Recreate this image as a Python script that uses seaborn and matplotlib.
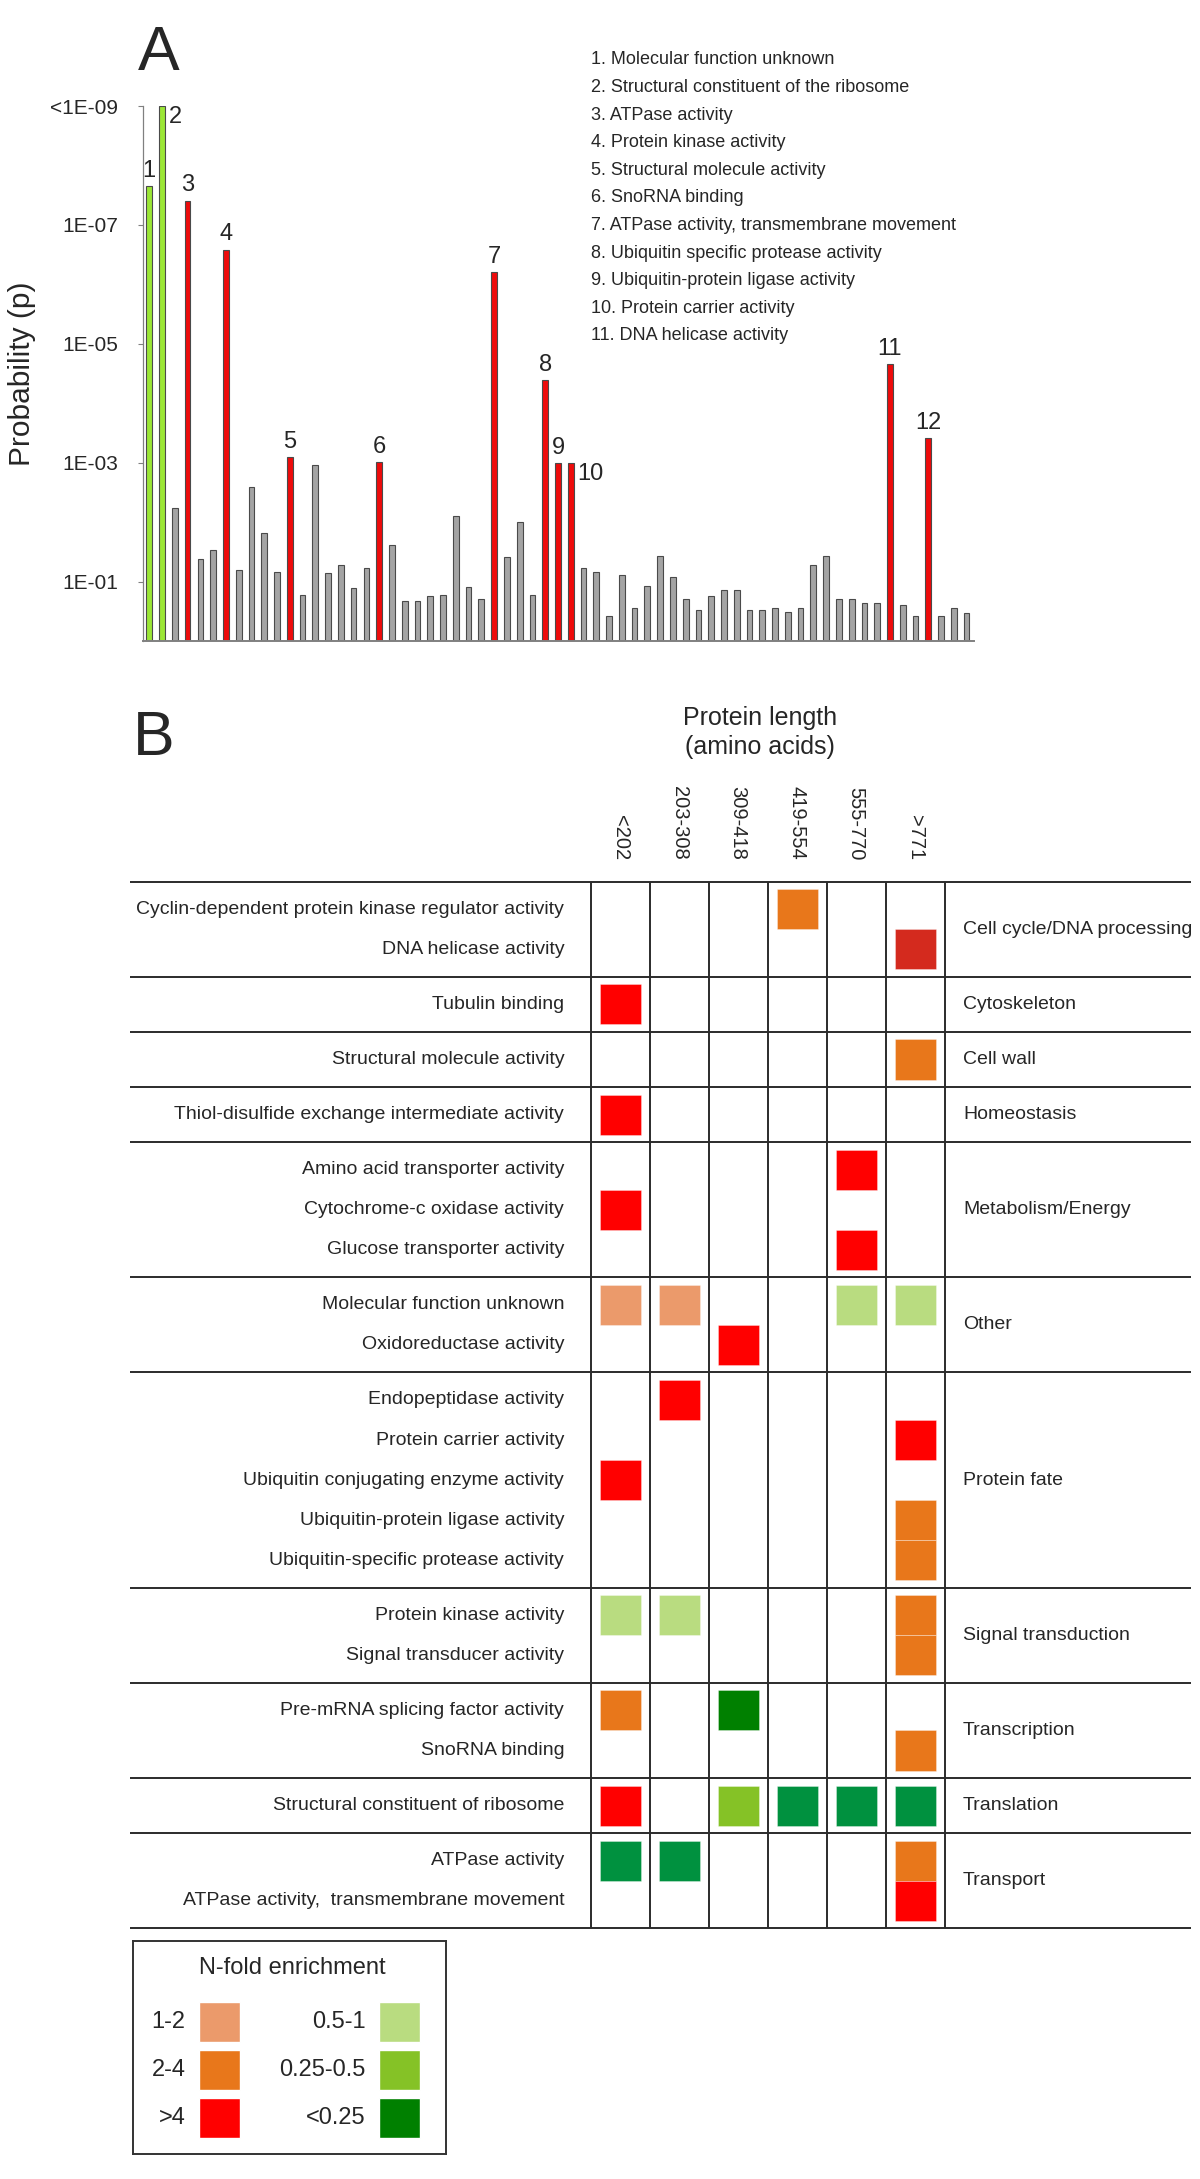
import numpy as np
import pandas as pd
import matplotlib.pyplot as plt
import seaborn as sns
from matplotlib import font_manager

# ---------------- panel A data ----------------
p_values = [2.2e-8, 1e-9, 5.8e-3, 3.9e-8, 4.1e-2, 2.9e-2, 2.6e-7, 6.3e-2, 2.6e-3, 1.5e-2,
            6.8e-2, 8.1e-4, 0.166, 1.1e-3, 7.1e-2, 5.2e-2, 0.129, 6.0e-2, 9.8e-4, 2.4e-2,
            0.21, 0.21, 0.174, 0.166, 7.8e-3, 0.123, 0.20, 6.2e-7, 3.9e-2, 1.0e-2,
            0.166, 4.1e-5, 1.0e-3, 1.0e-3, 5.9e-2, 6.8e-2, 0.38, 7.9e-2, 0.28, 0.12,
            3.7e-2, 8.5e-2, 0.20, 0.30, 0.174, 0.138, 0.138, 0.30, 0.30, 0.28,
            0.32, 0.28, 5.2e-2, 3.7e-2, 0.20, 0.20, 0.23, 0.23, 2.2e-5, 0.25,
            0.38, 3.9e-4, 0.38, 0.28, 0.34]
highlight_bars = [0, 1, 3, 6, 11, 18, 27, 31, 32, 33, 58, 61]
highlight_kind = ['green', 'green'] + ['red'] * 10
ytick_labels = ['1E-01', '1E-03', '1E-05', '1E-07', '<1E-09']
go_terms = ['Molecular function unknown', 'Structural constituent of the ribosome',
            'ATPase activity', 'Protein kinase activity', 'Structural molecule activity',
            'SnoRNA binding', 'ATPase activity, transmembrane movement',
            'Ubiquitin specific protease activity', 'Ubiquitin-protein ligase activity',
            ' Protein carrier activity', ' DNA helicase activity']

# ---------------- panel B data ----------------
length_bins = ['<202', '203-308', '309-418', '419-554', '555-770', '>771']
groups = ['Cell cycle/DNA processing', 'Cytoskeleton', 'Cell wall', 'Homeostasis',
          'Metabolism/Energy', 'Other', 'Protein fate', 'Signal transduction',
          'Transcription', 'Translation', 'Transport']
terms = ['Cyclin-dependent protein kinase regulator activity', 'DNA helicase activity',
         'Tubulin binding', 'Structural molecule activity',
         'Thiol-disulfide exchange intermediate activity',
         'Amino acid transporter activity', 'Cytochrome-c oxidase activity',
         'Glucose transporter activity', 'Molecular function unknown',
         'Oxidoreductase activity', 'Endopeptidase activity', 'Protein carrier activity',
         'Ubiquitin conjugating enzyme activity', 'Ubiquitin-protein ligase activity',
         'Ubiquitin-specific protease activity', 'Protein kinase activity',
         'Signal transducer activity', 'Pre-mRNA splicing factor activity',
         'SnoRNA binding', 'Structural constituent of ribosome', 'ATPase activity',
         'ATPase activity,  transmembrane movement']
term_group = [0, 0, 1, 2, 3, 4, 4, 4, 5, 5, 6, 6, 6, 6, 6, 7, 7, 8, 8, 9, 10, 10]
cell_term = [0, 1, 2, 3, 4, 5, 6, 7, 8, 8, 8, 8, 9, 10, 11, 12, 13, 14, 15, 15, 15, 16,
             17, 17, 18, 19, 19, 19, 19, 19, 20, 20, 20, 21]
cell_col = [3, 5, 0, 5, 0, 4, 0, 4, 0, 1, 4, 5, 2, 1, 5, 0, 5, 5, 0, 1, 5, 5,
            0, 2, 5, 0, 2, 3, 4, 5, 0, 1, 5, 5]
cell_level = ['2-4', '>4', '>4', '2-4', '>4', '>4', '>4', '>4', '1-2', '1-2', '0.5-1', '0.5-1',
              '>4', '>4', '>4', '>4', '2-4', '2-4', '0.5-1', '0.5-1', '2-4', '2-4',
              '2-4', '<0.25', '2-4', '>4', '0.25-0.5', '<0.25', '<0.25', '<0.25',
              '<0.25', '<0.25', '2-4', '>4']
legend_levels = ['1-2', '2-4', '>4', '0.5-1', '0.25-0.5', '<0.25']

level_colors = {'1-2': '#eb9a6b', '2-4': '#e8771b', '>4': '#ff0000',
                '0.5-1': '#b9dc80', '0.25-0.5': '#85c226', '<0.25': '#008000'}
# shades used in the table that differ slightly from the legend key
shade_override = {(1, 5): '#d42a1e', (19, 3): '#00913f', (19, 4): '#00913f',
                  (19, 5): '#00913f', (20, 0): '#00913f', (20, 1): '#00913f'}

sns.set_style('white')
plt.rcParams['font.family'] = ['Liberation Sans', 'DejaVu Sans']
names = {f.name for f in font_manager.fontManager.ttflist}
narrow = 'Liberation Sans Narrow' in names

W, H = 1200, 2179
fig = plt.figure(figsize=(W / 100, H / 100), dpi=100)


def fx(px):
    return px / W


def fy(py):
    return 1 - py / H


# ---------------- panel A ----------------
ax_a = fig.add_axes([fx(143.3), fy(641), (974 - 143.3) / W, (641 - 106) / H])
kinds = ['grey'] * len(p_values)
for i, k in zip(highlight_bars, highlight_kind):
    kinds[i] = k
df_a = pd.DataFrame({'bar': np.arange(len(p_values)),
                     'score': -np.log10(p_values),
                     'kind': kinds})
sns.barplot(data=df_a, x='bar', y='score', hue='kind',
            palette={'grey': '#a4a4a4', 'green': '#9be636', 'red': '#ee0b0b'},
            dodge=False, width=0.45, saturation=1, legend=False,
            edgecolor='#4a4a4a', linewidth=0.8, ax=ax_a)
ax_a.set_xlim(-0.47, 64.58)
ax_a.set_ylim(0, 9)
ax_a.set_xticks([])
ax_a.set_xlabel('')
ax_a.set_yticks([1, 3, 5, 7, 9])
if narrow:
    ax_a.set_yticklabels(ytick_labels, family=['Liberation Sans Narrow', 'Liberation Sans'],
                         fontsize=17)
else:
    ax_a.set_yticklabels(ytick_labels, fontsize=15)
ax_a.tick_params(axis='y', left=True, length=3.6, width=0.8, color='#808080', pad=14.5)
sns.despine(ax=ax_a)
ax_a.spines['left'].set_color('#808080')
ax_a.spines['left'].set_linewidth(0.9)
ax_a.spines['bottom'].set_color('#808080')
ax_a.spines['bottom'].set_linewidth(1.4)
ax_a.set_ylabel('Probability (p)', fontsize=21.5)
ax_a.yaxis.set_label_coords(-0.129, 0.5)

scores = df_a['score'].values
for n, i in enumerate(highlight_bars, start=1):
    if n in (2, 10):
        ax_a.annotate(str(n), (i + 0.22, scores[i]), xytext=(3, 0),
                      textcoords='offset points', ha='left', va='top', fontsize=17)
    else:
        ax_a.annotate(str(n), (i, scores[i]), xytext=(0, 3),
                      textcoords='offset points', ha='center', va='bottom', fontsize=17)

fig.text(fx(138), fy(70), 'A', fontsize=45, va='baseline', ha='left')
for k, name in enumerate(go_terms):
    fig.text(fx(590.6), fy(60 + k * 27.6), f'{k + 1}.{"" if name.startswith(" ") else " "}{name}',
             fontsize=13, va='center', ha='left')

# ---------------- panel B ----------------
col_px = (944.6 - 590.7) / 6
pad = 7.5 / 40
term_top = []
bounds = [0.0]
y = 0.0
for g in range(len(groups)):
    n = term_group.count(g)
    y += pad
    term_top.extend(y + k for k in range(n))
    y += n + pad
    bounds.append(y)
total = y

ax_b = fig.add_axes([fx(130), fy(1928.3), (1191 - 130) / W, (1928.3 - 881.7) / H])
x0, x1 = (130 - 590.7) / col_px, (1191 - 590.7) / col_px
ax_b.set_xlim(x0, x1)
ax_b.set_ylim(total, 0)
ax_b.axis('off')

cell_colors = [shade_override.get((t, c), level_colors[lv])
               for t, c, lv in zip(cell_term, cell_col, cell_level)]
ax_b.bar([c + 0.5 for c in cell_col], 1, bottom=[term_top[t] for t in cell_term],
         width=41 / col_px, color=cell_colors, edgecolor=(1, 1, 1, 0.45), linewidth=0.5)

ax_b.hlines(bounds, x0, x1, colors='#2b2b2b', linewidth=1.4, clip_on=False)
ax_b.vlines(np.arange(len(length_bins) + 1), 0, total, colors='#2b2b2b', linewidth=1.4,
            clip_on=False)

for t, name in enumerate(terms):
    ax_b.text(-0.45, term_top[t] + 0.5, name, ha='right', va='center', fontsize=14)
for g, name in enumerate(groups):
    ax_b.text(6.31, (bounds[g] + bounds[g + 1]) / 2, name, ha='left', va='center',
              fontsize=14, clip_on=False)
for j, lab in enumerate(length_bins):
    ax_b.text(j + 0.5, -0.54, lab, rotation=270, ha='center', va='bottom',
              fontsize=14.5, clip_on=False)

fig.text(fx(760), fy(718), 'Protein length', ha='center', va='center', fontsize=18)
fig.text(fx(760), fy(747), '(amino acids)', ha='center', va='center', fontsize=18)
fig.text(fx(133), fy(755), 'B', fontsize=45, va='baseline', ha='left')

# ---------------- legend box ----------------
ax_l = fig.add_axes([fx(132.7), fy(2154), (446 - 132.7) / W, (2154 - 1941) / H])
ax_l.set_xlim(0, 313.3)
ax_l.set_ylim(213, 0)
ax_l.set_xticks([])
ax_l.set_yticks([])
for s in ax_l.spines.values():
    s.set_visible(True)
    s.set_color('#333333')
    s.set_linewidth(1.4)
ax_l.text(160, 27, 'N-fold enrichment', ha='center', va='center', fontsize=17)
lx = [66.6 + (i // 3) * 180 for i in range(len(legend_levels))]
ly = [60.7 + (i % 3) * 48.2 for i in range(len(legend_levels))]
ax_l.bar([x + 20.5 for x in lx], 40, bottom=ly, width=41,
         color=[level_colors[lv] for lv in legend_levels])
for x, yy, lv in zip(lx, ly, legend_levels):
    ax_l.text(x - 13.6, yy + 20, lv, ha='right', va='center', fontsize=17)

fig.savefig('out.png', dpi=100)
